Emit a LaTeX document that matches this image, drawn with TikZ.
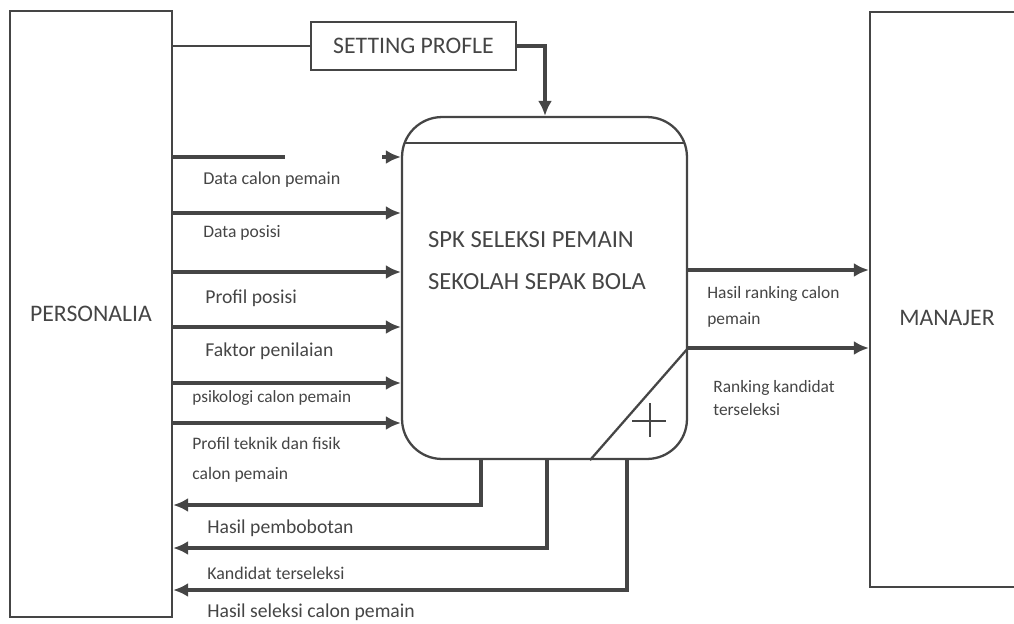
\documentclass[tikz,border=0pt]{standalone}
\usepackage{fontspec}
\setmainfont{Carlito}
\usetikzlibrary{arrows.meta,positioning}
\definecolor{ink}{gray}{0.27}

\tikzset{
    entity/.style={draw=ink,line width=1.3pt,rectangle,text=ink,font=\fontsize{13.5}{15}\selectfont},
    flow/.style={draw=ink,line width=2.2pt,-{Latex[length=3mm,width=2.8mm]}},
    flowlabel/.style={anchor=west,inner sep=0pt,text=ink,font=\fontsize{10}{12}\selectfont},
}

\begin{document}
\begin{tikzpicture}[x=0.02cm,y=-0.02cm]
    \useasboundingbox (0,0) rectangle (1014,623);
    \node[entity,minimum width=3.24cm,minimum height=12.12cm] (personalia) at (91,314) {PERSONALIA};
    \node[entity,minimum width=3.2cm,minimum height=11.5cm] (manajer) at (950,299.5) {};
    \node[text=ink,font=\fontsize{13.5}{15}\selectfont] (manajertext) at (947,318) {MANAJER};
    \node[entity,minimum width=4.1cm,minimum height=0.96cm] (setting) at (413.5,46) {SETTING PROFLE};
    \node[entity,rounded corners=0.8cm,minimum width=5.7cm,minimum height=6.84cm] (proses) at (544.5,288) {};
    \node[text=ink,align=left,font=\fontsize{14}{24}\selectfont] (prosestext) at (537,261) {SPK SELEKSI PEMAIN\\SEKOLAH SEPAK BOLA};
    \draw[ink,line width=1.3pt] (404.5,143) -- (684.5,143);
    \draw[ink,line width=1.3pt] (proses.east |- 0,348) -- (proses.south -| 590,0);
    \draw[ink,line width=1pt] (632,421) -- (666,421) (650,403) -- (650,437);

    % setting profile
    \draw[ink,line width=1.2pt] (personalia.east |- setting.west) -- (setting.west);
    \draw[flow,line width=2.6pt] (setting.east) -| (proses.north -| 545,0);

    % masukan dari personalia
    \coordinate (gapA) at (285,157);
    \coordinate (gapB) at (382,157);
    \draw[ink,line width=2.2pt] (personalia.east |- gapA) -- (gapA);
    \draw[flow] (gapB) -- (proses.west |- gapB);
    \foreach \ypos/\wd in {213/2.2,272/2.2,327/2.2,383/2.8,423/2.8}{
        \draw[flow,line width=\wd pt] (personalia.east |- 0,\ypos) -- (proses.west |- 0,\ypos);
    }
    \node[flowlabel,font=\fontsize{10.3}{12}\selectfont] (in1) at (203,180) {Data calon pemain};
    \node[flowlabel] (in2) at (203,233) {Data posisi};
    \node[flowlabel,font=\fontsize{11.2}{13}\selectfont] (in3) at (205,298) {Profil posisi};
    \node[flowlabel,font=\fontsize{11.2}{13}\selectfont] (in4) at (205,351) {Faktor penilaian};
    \node[flowlabel,font=\fontsize{9.8}{12}\selectfont] (in5) at (192,398) {psikologi calon pemain};
    \node[flowlabel] (in6) at (192,443) {Profil teknik dan fisik};
    \node[flowlabel] (in7) at (192,475) {calon pemain};

    % keluaran ke personalia
    \foreach \xpos/\ypos in {481/505,547/548,627/590}{
        \draw[flow,line width=1.8pt] (proses.south -| \xpos,0) |- (personalia.east |- 0,\ypos);
    }
    \node[flowlabel,font=\fontsize{11.2}{13}\selectfont] (out1) at (207,528) {Hasil pembobotan};
    \node[flowlabel,font=\fontsize{10.2}{12}\selectfont] (out2) at (207,573) {Kandidat terseleksi};
    \node[flowlabel,font=\fontsize{11.2}{13}\selectfont] (out3) at (207,612) {Hasil seleksi calon pemain};

    % keluaran ke manajer
    \draw[flow] (proses.east |- 0,270) -- (manajer.west |- 0,270);
    \draw[flow] (proses.east |- 0,348) -- (manajer.west |- 0,348);
    \node[flowlabel,align=left,font=\fontsize{9.9}{14.5}\selectfont] (rank1) at (707,307) {Hasil ranking calon\\pemain};
    \node[flowlabel,align=left,font=\fontsize{9.9}{13.5}\selectfont] (rank2) at (713,398) {Ranking kandidat\\terseleksi};
\end{tikzpicture}
\end{document}
